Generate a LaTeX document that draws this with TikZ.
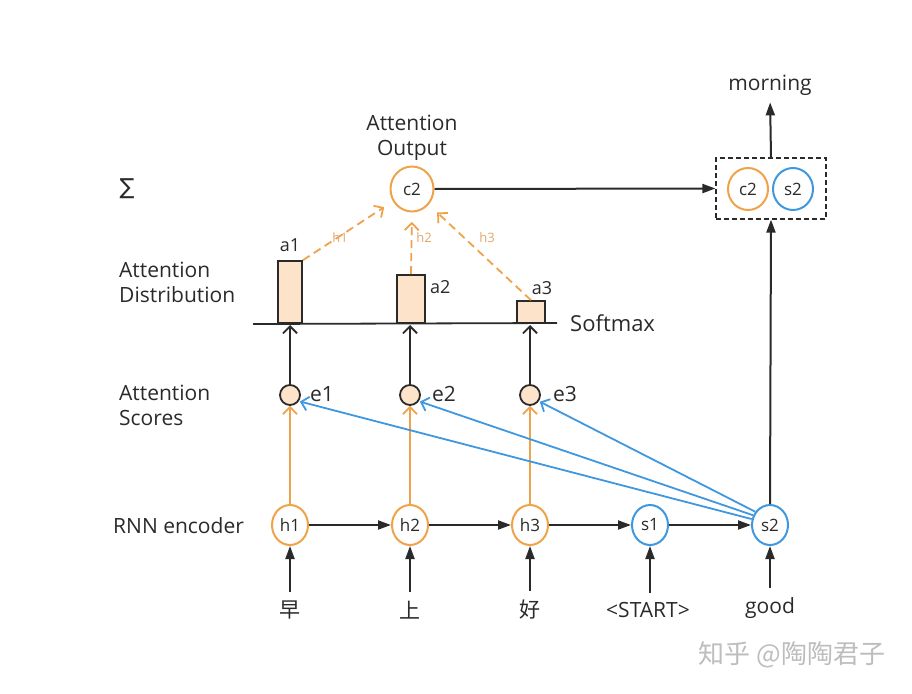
\documentclass[tikz,border=0pt]{standalone}
\usepackage{fontspec}
\setmainfont{Open Sans}
\newfontfamily\cjk{Noto Sans CJK SC}
\newfontfamily\dejavu{DejaVu Sans}
\usetikzlibrary{arrows.meta,shapes.geometric}
\definecolor{ora}{HTML}{EFA24A}
\definecolor{blu}{HTML}{3F97DF}
\definecolor{peach}{HTML}{FDE3CA}
\definecolor{dark}{HTML}{2A2A2A}
\definecolor{tan}{HTML}{E0A868}
\definecolor{wm}{HTML}{BDBDBD}
\begin{document}
\begin{tikzpicture}[x=1pt,y=-1pt,
  txt/.style={text=dark,font=\fontsize{21}{25}\selectfont,inner sep=0pt},
  hnode/.style={ellipse,draw=ora,line width=2pt,minimum width=36pt,minimum height=40pt,inner sep=0pt,text=dark,font=\fontsize{17}{19}\selectfont},
  snode/.style={hnode,draw=blu},
  enode/.style={circle,draw=dark,fill=peach,line width=1.8pt,minimum size=20pt,inner sep=0pt},
  barbox/.style={rectangle,draw=dark,fill=peach,line width=1.8pt,inner sep=0pt,anchor=south},
  fillarr/.style={draw=dark,line width=2pt,-{Triangle[length=13pt,width=9pt]}},
  openarr/.style={line width=1.8pt,-{Straight Barb[length=7pt,width=14pt,line width=1.8pt]}},
  dasharr/.style={draw=ora,dash pattern=on 8pt off 5pt,line width=1.8pt,-{Straight Barb[length=7pt,width=14pt,line width=1.8pt,sep]}},
  smalllab/.style={text=tan,font=\fontsize{13}{15}\selectfont,inner sep=0pt},
  alab/.style={text=dark,font=\fontsize{18}{20}\selectfont,inner sep=0pt}
]
\useasboundingbox (0,0) rectangle (912,693);

% left labels
\node[txt,font=\dejavu\fontsize{22}{25}\selectfont] (sig) at (127,189) {∑};
\node[txt,anchor=west,align=left] (ad) at (119,282.5) {Attention\\Distribution};
\node[txt,anchor=west,align=left] (as) at (119,405.5) {Attention\\Scores};
\node[txt,anchor=west] (rnn) at (113,526) {RNN encoder};

% RNN row
\node[hnode] (h1) at (290,525) {h1};
\node[hnode] (h2) at (410,525) {h2};
\node[hnode] (h3) at (530,525) {h3};
\node[snode] (s1) at (650,525) {s1};
\node[snode] (s2) at (770,525) {s2};

% inputs
\node[txt,font=\cjk\fontsize{21}{25}\selectfont] (w1) at (290,610) {早};
\node[txt,font=\cjk\fontsize{21}{25}\selectfont] (w2) at (410,610) {上};
\node[txt,font=\cjk\fontsize{21}{25}\selectfont] (w3) at (530,610) {好};
\node[txt] (w4) at (648,610) {<START>};
\node[txt] (w5) at (770,608) {good};
\foreach \i/\j in {w1/h1,w2/h2,w3/h3,w5/s2}
  \draw[fillarr,shorten <=9pt] (\i.north) -- (\j.south);
\draw[fillarr,shorten <=9pt] (w4.north -| s1) -- (s1.south);

\foreach \i/\j in {h1/h2,h2/h3,h3/s1,s1/s2}
  \draw[fillarr] (\i.east) -- (\j.west);

% scores
\node[enode] (e1) at (290,395) {};
\node[enode] (e2) at (410,395) {};
\node[enode] (e3) at (530,395) {};
\node[txt,anchor=west] (le1) at (310,394) {e1};
\node[txt,anchor=west] (le2) at (432,394) {e2};
\node[txt,anchor=west] (le3) at (553,394) {e3};

\foreach \i/\j in {h1/e1,h2/e2,h3/e3}
  \draw[openarr,draw=ora] (\i.north) -- (\j.south);

\draw[openarr,draw=blu,shorten >=1pt] (s2.162) -- (e1.-35);
\draw[openarr,draw=blu,shorten >=1pt] (s2.150) -- (e2.-35);
\draw[openarr,draw=blu,shorten >=1pt] (s2.138) -- (e3.-35);

% softmax line and bars
\coordinate (sl) at (253,324);
\coordinate (sr) at (557,323);
\draw[dark,line width=1.8pt] (sl) -- (sr);
\node[txt,anchor=west,font=\fontsize{22}{25}\selectfont] (soft) at (570,323) {Softmax};

\node[barbox,minimum width=24pt,minimum height=62pt] (b1) at (290,324) {};
\node[barbox,minimum width=28pt,minimum height=48pt] (b2) at (411,324) {};
\node[barbox,minimum width=28pt,minimum height=22pt] (b3) at (531,324) {};
\node[alab] (la1) at (290,245) {a1};
\node[alab,anchor=west] (la2) at (430,287) {a2};
\node[alab] (la3) at (542,288) {a3};

\draw[openarr,draw=dark,shorten >=-1pt] (e1.north) -- (290,326);
\draw[openarr,draw=dark,shorten >=-1pt] (e2.north) -- (410,326);
\draw[openarr,draw=dark,shorten >=-1pt] (e3.north) -- (530,326);

% attention output
\node[hnode,minimum width=43pt,minimum height=45pt] (c2) at (412,189) {c2};
\node[txt,align=center] (ao) at (412,137.5) {Attention\\Output};

\draw[dasharr,shorten >=9pt] (b1.north east) -- (c2);
\draw[dasharr,shorten >=8pt] (b2.north) -- (c2.south);
\draw[dasharr,shorten >=10pt] (b3.north) -- (c2);
\node[smalllab] (lh1) at (340,238) {h1};
\node[smalllab] (lh2) at (424,238) {h2};
\node[smalllab] (lh3) at (487,238) {h3};

% decoder output box
\node[draw=dark,dash pattern=on 5pt off 3pt,line width=1.2pt,minimum width=110pt,minimum height=61pt,inner sep=0pt] (box) at (771,188.5) {};
\node[hnode,minimum width=40pt,minimum height=42pt] (bc2) at (748,189) {c2};
\node[snode,minimum width=40pt,minimum height=42pt] (bs2) at (793,189) {s2};
\node[txt,font=\fontsize{21}{25}\selectfont] (morn) at (770,85) {morning};

\draw[fillarr] (c2.east) -- (box.west);
\draw[fillarr] (s2.north) -- (box.south);
\draw[fillarr,shorten >=7pt] (box.north) -- (morn.south);

% watermark
\node[text=wm,font=\cjk\fontsize{26}{30}\selectfont,inner sep=0pt] (wmk) at (792,655) {知乎 @陶陶君子};
\end{tikzpicture}
\end{document}
